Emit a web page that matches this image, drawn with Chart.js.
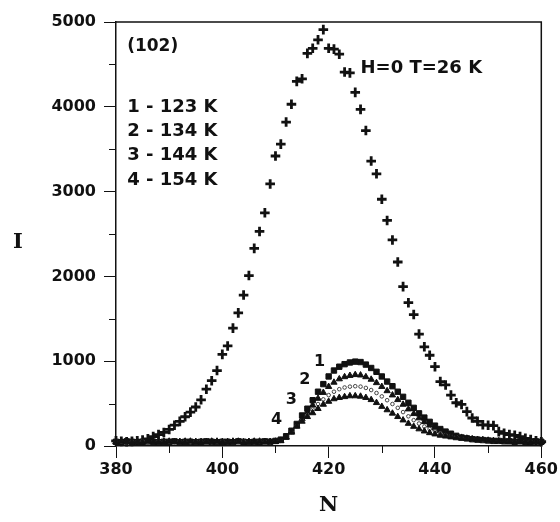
<!DOCTYPE html>
<html>
<head>
<meta charset="utf-8">
<script src="https://cdn.jsdelivr.net/npm/chart.js@4.4.0/dist/chart.umd.min.js"></script>
<style>
  html, body { margin: 0; padding: 0; background: #fff; }
</style>
</head>
<body>
<canvas id="chart" width="560" height="522"></canvas>
<script>
// channel numbers N (x axis)
var channels = [
  380, 381, 382, 383, 384, 385, 386, 387, 388, 389,
  390, 391, 392, 393, 394, 395, 396, 397, 398, 399,
  400, 401, 402, 403, 404, 405, 406, 407, 408, 409,
  410, 411, 412, 413, 414, 415, 416, 417, 418, 419,
  420, 421, 422, 423, 424, 425, 426, 427, 428, 429,
  430, 431, 432, 433, 434, 435, 436, 437, 438, 439,
  440, 441, 442, 443, 444, 445, 446, 447, 448, 449,
  450, 451, 452, 453, 454, 455, 456, 457, 458, 459, 460
];

// H=0, T=26 K
var intensityT26 = [
  60, 55, 50, 55, 60, 70, 85, 110, 135, 160,
  195, 245, 290, 345, 400, 460, 545, 670, 770, 890,
  1080, 1180, 1390, 1570, 1780, 2010, 2330, 2530, 2750, 3090,
  3420, 3560, 3820, 4030, 4300, 4330, 4630, 4690, 4790, 4910,
  4690, 4680, 4620, 4410, 4400, 4170, 3970, 3720, 3360, 3210,
  2910, 2660, 2430, 2170, 1880, 1690, 1550, 1320, 1170, 1070,
  935, 760, 720, 600, 510, 490, 405, 330, 290, 250,
  245, 240, 170, 150, 135, 125, 110, 90, 75, 60, 50
];

// 1 - 123 K
var intensity123 = [
  50, 45, 55, 50, 45, 50, 55, 50, 45, 50,
  50, 55, 45, 50, 50, 45, 50, 55, 50, 45,
  50, 50, 45, 55, 50, 45, 50, 50, 55, 50,
  60, 75, 115, 180, 260, 360, 440, 540, 640, 730,
  820, 890, 935, 965, 985, 995, 990, 960, 920, 875,
  820, 760, 705, 640, 580, 510, 450, 385, 335, 285,
  240, 200, 170, 145, 120, 100, 90, 80, 75, 70,
  65, 60, 60, 55, 55, 50, 55, 50, 50, 55, 50
];

// 2 - 134 K
var intensity134 = [
  45, 50, 50, 45, 55, 50, 45, 50, 50, 55,
  45, 50, 50, 55, 45, 50, 50, 45, 55, 50,
  45, 50, 55, 50, 45, 50, 55, 45, 50, 50,
  55, 65, 105, 170, 240, 320, 400, 480, 560, 630,
  700, 750, 790, 815, 830, 840, 835, 815, 785, 745,
  700, 650, 600, 545, 490, 435, 380, 330, 285, 245,
  210, 180, 150, 130, 110, 100, 90, 80, 75, 70,
  65, 60, 55, 55, 50, 50, 55, 50, 50, 45, 50
];

// 3 - 144 K
var intensity144 = [
  55, 50, 45, 50, 50, 55, 45, 50, 55, 50,
  50, 45, 55, 50, 45, 55, 50, 50, 45, 50,
  55, 45, 50, 50, 55, 50, 45, 55, 50, 45,
  50, 60, 100, 165, 235, 300, 365, 430, 495, 550,
  600, 640, 670, 690, 700, 705, 700, 685, 660, 625,
  585, 540, 495, 450, 400, 350, 305, 265, 230, 200,
  175, 150, 130, 115, 105, 95, 85, 78, 72, 66,
  62, 58, 55, 52, 50, 50, 48, 50, 52, 48, 50
];

// 4 - 154 K
var intensity154 = [
  50, 55, 50, 45, 50, 45, 55, 50, 50, 45,
  55, 50, 50, 45, 55, 50, 45, 50, 50, 55,
  50, 45, 50, 55, 45, 50, 50, 55, 45, 50,
  50, 60, 100, 160, 230, 290, 345, 390, 440, 490,
  525, 555, 570, 580, 590, 590, 585, 570, 545, 510,
  465, 425, 385, 345, 305, 265, 230, 200, 175, 155,
  140, 125, 115, 105, 95, 90, 85, 80, 75, 70,
  65, 60, 58, 55, 52, 50, 50, 48, 50, 48, 50
];

var minorTicksX = [390, 410, 430, 450];
var minorTicksY = [500, 1500, 2500, 3500, 4500];

// build x/y point lists for the scatter datasets
function toPoints(values) {
  return values.map(function (v, i) { return { x: channels[i], y: v }; });
}

var ink = '#111';
var sansBold = 'bold 18px "DejaVu Sans", sans-serif';

// text notes placed in data coordinates
var notes = [
  { text: '(102)', n: 382.1, i: 4705, align: 'left', font: 'bold 17px "DejaVu Sans", sans-serif' },
  { text: '1 - 123 K', n: 382.1, i: 3997, align: 'left', font: sansBold },
  { text: '2 - 134 K', n: 382.1, i: 3715, align: 'left', font: sansBold },
  { text: '3 - 144 K', n: 382.1, i: 3431, align: 'left', font: sansBold },
  { text: '4 - 154 K', n: 382.1, i: 3137, align: 'left', font: sansBold },
  { text: 'H=0 T=26 K', n: 426, i: 4457, align: 'left', font: sansBold },
  { text: '1', n: 418.3, i: 990, align: 'center', font: 'bold 16px "DejaVu Sans", sans-serif' },
  { text: '2', n: 415.5, i: 778, align: 'center', font: 'bold 16px "DejaVu Sans", sans-serif' },
  { text: '3', n: 413.0, i: 542, align: 'center', font: 'bold 16px "DejaVu Sans", sans-serif' },
  { text: '4', n: 410.2, i: 307, align: 'center', font: 'bold 16px "DejaVu Sans", sans-serif' }
];

// frame, minor ticks, y title and text notes
var decorPlugin = {
  id: 'decor',
  afterDraw: function (chart) {
    var ctx = chart.ctx;
    var area = chart.chartArea;
    var xs = chart.scales.x;
    var ys = chart.scales.y;
    ctx.save();
    ctx.strokeStyle = ink;
    ctx.lineWidth = 1.5;
    ctx.beginPath();
    ctx.moveTo(area.left, area.top);
    ctx.lineTo(area.right, area.top);
    ctx.lineTo(area.right, area.bottom);
    ctx.stroke();

    ctx.lineWidth = 1;
    ctx.beginPath();
    minorTicksX.forEach(function (v) {
      var px = Math.round(xs.getPixelForValue(v)) + 0.5;
      ctx.moveTo(px, area.bottom);
      ctx.lineTo(px, area.bottom + 7);
    });
    minorTicksY.forEach(function (v) {
      var py = Math.round(ys.getPixelForValue(v)) + 0.5;
      ctx.moveTo(area.left, py);
      ctx.lineTo(area.left - 7, py);
    });
    ctx.stroke();

    ctx.fillStyle = ink;
    ctx.textBaseline = 'middle';
    ctx.font = 'bold 21px "DejaVu Serif", serif';
    ctx.textAlign = 'center';
    ctx.fillText('I', 18, ys.getPixelForValue(2400));

    notes.forEach(function (nt) {
      ctx.font = nt.font;
      ctx.textAlign = nt.align;
      ctx.fillText(nt.text, xs.getPixelForValue(nt.n), ys.getPixelForValue(nt.i));
    });
    ctx.restore();
  }
};

var ctx = document.getElementById('chart').getContext('2d');

var chart = new Chart(ctx, {
  type: 'scatter',
  data: {
    datasets: [
      {
        label: '4 - 154 K',
        data: toPoints(intensity154),
        pointStyle: 'triangle',
        pointRadius: 3.6,
        backgroundColor: ink,
        borderColor: ink,
        borderWidth: 1,
        clip: false
      },
      {
        label: '3 - 144 K',
        data: toPoints(intensity144),
        pointStyle: 'circle',
        pointRadius: 1.8,
        backgroundColor: '#fff',
        borderColor: '#444',
        borderWidth: 1,
        clip: false
      },
      {
        label: '2 - 134 K',
        data: toPoints(intensity134),
        pointStyle: 'triangle',
        pointRadius: 3.6,
        backgroundColor: ink,
        borderColor: ink,
        borderWidth: 1,
        clip: false
      },
      {
        label: '1 - 123 K',
        data: toPoints(intensity123),
        pointStyle: 'rect',
        pointRadius: 3.8,
        backgroundColor: ink,
        borderColor: ink,
        borderWidth: 1,
        clip: false
      },
      {
        label: 'H=0 T=26 K',
        data: toPoints(intensityT26),
        pointStyle: 'cross',
        pointRadius: 4.8,
        borderColor: ink,
        borderWidth: 2.8,
        clip: false
      }
    ]
  },
  options: {
    responsive: false,
    animation: false,
    layout: {
      padding: { top: 22, right: 18, left: 0, bottom: 0 }
    },
    plugins: {
      legend: { display: false },
      tooltip: { enabled: false }
    },
    scales: {
      x: {
        type: 'linear',
        min: 380,
        max: 460,
        afterFit: function (scale) { scale.height = 76; },
        ticks: {
          stepSize: 20,
          padding: 2,
          color: ink,
          font: { family: '"DejaVu Sans", sans-serif', weight: 'bold', size: 16 },
          callback: function (value) { return String(value); }
        },
        grid: {
          drawOnChartArea: false,
          tickLength: 12,
          color: ink
        },
        border: { color: ink, width: 1.5 },
        title: {
          display: true,
          text: 'N',
          color: ink,
          padding: { top: 0, bottom: 4 },
          font: { family: '"DejaVu Serif", serif', weight: 'bold', size: 21 }
        }
      },
      y: {
        min: 0,
        max: 5000,
        afterFit: function (scale) { scale.width = 116; },
        ticks: {
          stepSize: 1000,
          padding: 8,
          color: ink,
          font: { family: '"DejaVu Sans", sans-serif', weight: 'bold', size: 16 },
          callback: function (value) { return String(value); }
        },
        grid: {
          drawOnChartArea: false,
          tickLength: 12,
          color: ink
        },
        border: { color: ink, width: 1.5 }
      }
    }
  },
  plugins: [decorPlugin]
});
</script>
</body>
</html>
